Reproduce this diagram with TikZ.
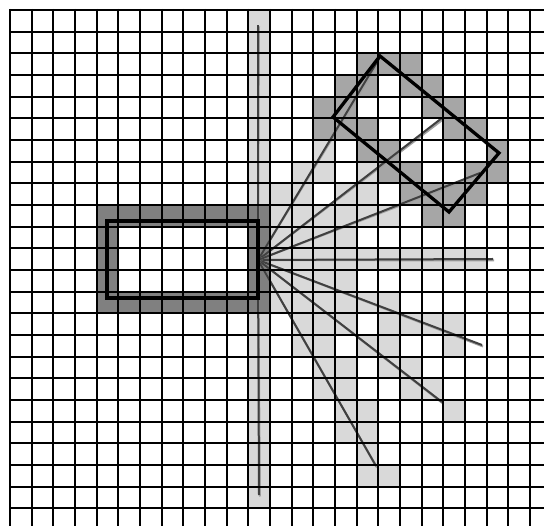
\documentclass[tikz,border=0pt]{standalone}
\definecolor{lightcell}{HTML}{D9D9D9}
\definecolor{midcell}{HTML}{A6A6A6}
\definecolor{darkcell}{HTML}{808080}
\definecolor{ray}{HTML}{404040}
\definecolor{halo}{HTML}{A0A0A0}
\newcommand{\cells}[2]{\foreach \cx/\ry in {#2}{\fill[#1] ({10+21.67*\cx},{10+21.67*\ry}) rectangle ++(21.67,21.67);}}
\begin{document}
\begin{tikzpicture}[x=1pt,y=-1pt,
  gridline/.style={black,line width=2.3pt},
  rayline/.style={ray,line width=2pt},
  rayhalo/.style={halo,line width=2pt},
  frame/.style={black,line width=3.3pt,line join=miter}]
\useasboundingbox (0,0) rectangle (544,526);
\fill[white] (0,0) rectangle (544,526);
% light cells
\fill[lightcell] ({10+21.67*11},10) rectangle ++(21.67,{21.67*23});
\cells{lightcell}{14/6,13/7,14/7,16/7,12/8,13/8,15/8,16/8,12/9,13/9,14/9,15/9,16/9,17/9,12/10,13/10,14/10,15/10}
\fill[lightcell] ({10+21.67*12},{10+21.67*11}) rectangle ++({21.67*10},21.67);
\cells{lightcell}{12/12,13/12,14/12,15/12,12/13,13/13,14/13,15/13,16/13,17/13,13/14,14/14,15/14,17/14,18/14,19/14,20/14,13/15,14/15,16/15,17/15,20/15,14/16,15/16,17/16,18/16,14/17,15/17,18/17,19/17,15/18,16/18,20/18,15/19,16/19,16/20,16/21,17/21}
% dark rectangle border cells
\fill[darkcell] ({10+21.67*4},{10+21.67*9}) rectangle ++({21.67*8},21.67);
\fill[darkcell] ({10+21.67*4},{10+21.67*13}) rectangle ++({21.67*8},21.67);
\cells{darkcell}{4/10,4/11,4/12,11/10,11/11,11/12}
% mid cells
\cells{midcell}{16/2,17/2,18/2,15/3,16/3,18/3,19/3,14/4,15/4,19/4,20/4,14/5,15/5,16/5,20/5,21/5,16/6,17/6,22/6,17/7,18/7,21/7,22/7,18/8,19/8,20/8,21/8,19/9,20/9}
% rays
\coordinate (o) at (258,260);
\foreach \x/\y in {258/25,259/495,493/259,482/345,442/402,376/466,380/57,442/118,480/173}{
  \draw[rayhalo] (o) -- ({\x+1},{\y+1.5});
  \draw[rayline] (o) -- (\x,\y);}
% grid
\foreach \i in {0,...,24}{\draw[gridline] ({round(10+21.67*\i)},9) -- ({round(10+21.67*\i)},526);}
\foreach \j in {0,...,23}{\draw[gridline] (9,{round(10+21.67*\j)}) -- (544,{round(10+21.67*\j)});}
% frames
\draw[frame] (107,221) rectangle (258,298);
\draw[frame] (380,56) -- (499,153) -- (449,212) -- (333,117) -- cycle;
\end{tikzpicture}
\end{document}
